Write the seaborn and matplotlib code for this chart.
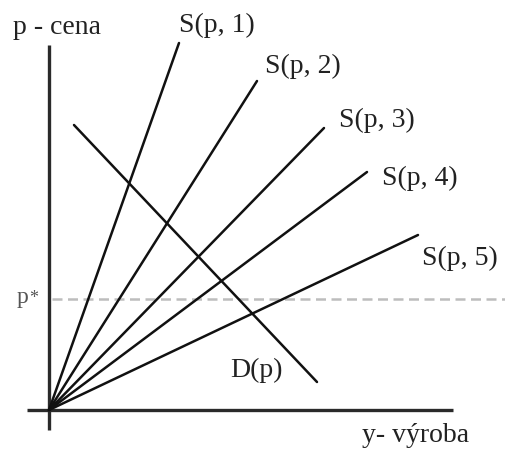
import matplotlib
matplotlib.use("Agg")
import matplotlib.pyplot as plt
import seaborn as sns
import pandas as pd

# Supply curves S(p, k): all start at the origin, end points (quantity, price)
supply_labels = ["S(p, 1)", "S(p, 2)", "S(p, 3)", "S(p, 4)", "S(p, 5)"]
supply_end_x = [130, 208, 275, 318, 369]
supply_end_y = [367, 329, 282, 238, 175]

# Demand curve D(p)
demand_x = [25, 268]
demand_y = [285, 28]

# Equilibrium price level p*
p_star = 111

sns.set_theme(style="white")
plt.rcParams["font.family"] = ["Liberation Serif", "DejaVu Serif"]

fig = plt.figure(figsize=(5.05, 4.5), dpi=100)
ax = fig.add_axes([0, 0, 1, 1])
ax.set_xlim(-49, 456)
ax.set_ylim(-40, 410)
ax.axis("off")

ink = "#111111"

# Coordinate axes
ax.plot([0, 0], [-20, 365], color="#2a2a2a", lw=2.4, solid_capstyle="butt")
ax.plot([-22, 404], [0, 0], color="#2a2a2a", lw=2.4, solid_capstyle="butt")

# Dashed p* level
ax.plot([3, 460], [p_star, p_star], color="#bdbdbd", lw=1.8,
        linestyle=(0, (4, 2.2)))

rows = []
for lab, xe, ye in zip(supply_labels, supply_end_x, supply_end_y):
    rows.append({"curve": lab, "q": 0, "p": 0})
    rows.append({"curve": lab, "q": xe, "p": ye})
supply = pd.DataFrame(rows)
for lab, grp in supply.groupby("curve"):
    sns.lineplot(data=grp, x="q", y="p", ax=ax, color=ink, lw=1.8,
                 sort=False, legend=False)

demand = pd.DataFrame({"q": demand_x, "p": demand_y})
sns.lineplot(data=demand, x="q", y="p", ax=ax, color=ink, lw=1.8,
             sort=False, legend=False)

ax.set_xlim(-49, 456)
ax.set_ylim(-40, 410)

txt = dict(color="#222222", fontsize=20, va="center", ha="left")
ax.text(-36, 382, "p - cena", **txt)
label_pos = [(130, 385), (216, 344), (290, 290), (333, 232), (373, 152)]
for lab, (tx, ty) in zip(supply_labels, label_pos):
    ax.text(tx, ty, lab, **txt)
ax.text(181, 40, "D(p)", **txt)
ax.text(313, -25, "y- výroba", **txt)
ax.text(-32, 107, "p", color="#555555", fontsize=17, va="baseline", ha="left")
ax.text(-20, 107, "*", color="#555555", fontsize=13, va="baseline", ha="left")

fig.savefig("out.png", dpi=100)
